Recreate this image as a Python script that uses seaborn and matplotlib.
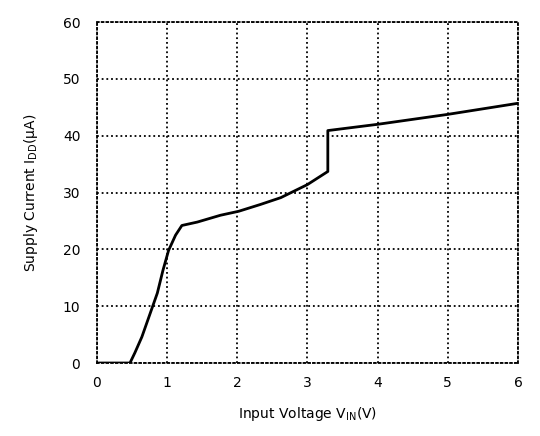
import matplotlib
matplotlib.use("Agg")
import matplotlib.pyplot as plt
import seaborn as sns
import pandas as pd

# Supply current vs. input voltage
input_voltage = [0.02, 0.47, 0.54, 0.64, 0.76, 0.86, 0.94, 1.02, 1.12, 1.21, 1.43,
                 1.76, 2.02, 2.33, 2.62, 3.00, 3.29, 3.29, 4.00, 5.00, 6.00]
supply_current = [0.0, 0.0, 1.8, 4.6, 8.8, 12.3, 16.3, 19.8, 22.5, 24.2, 24.8,
                  26.0, 26.7, 27.9, 29.1, 31.4, 33.7, 40.9, 42.0, 43.75, 45.7]
x_ticks = [0, 1, 2, 3, 4, 5, 6]
y_ticks = [0, 10, 20, 30, 40, 50, 60]

sns.set_theme(style="white")
plt.rcParams["font.family"] = ["DejaVu Sans"]
plt.rcParams["text.color"] = "black"
plt.rcParams["axes.labelcolor"] = "black"
plt.rcParams["xtick.color"] = "black"
plt.rcParams["ytick.color"] = "black"

df = pd.DataFrame({"vin": input_voltage, "idd": supply_current})

fig = plt.figure(figsize=(5.4, 4.36), dpi=100)
ax = fig.add_axes([0.1796, 0.1674, 0.7796, 0.7821])

sns.lineplot(data=df, x="vin", y="idd", sort=False, estimator=None,
             color="black", linewidth=2.0, ax=ax)

ax.set_xlim(0, 6)
ax.set_ylim(0, 60)
ax.set_xticks(x_ticks)
ax.set_yticks(y_ticks)
ax.set_xticklabels([str(t) for t in x_ticks], fontsize=10)
ax.set_yticklabels([str(t) for t in y_ticks], fontsize=10)
ax.tick_params(axis="x", length=0, pad=9)
ax.tick_params(axis="y", length=0, pad=12)

ax.grid(True, color="black", linestyle=(0, (1, 1.6)), linewidth=1.3)
for s in ax.spines.values():
    s.set_color("black")
    s.set_linestyle((0, (1, 1.6)))
    s.set_linewidth(1.3)

ax.set_xlabel(r"Input Voltage V$_{\mathrm{IN}}$(V)", fontsize=10, labelpad=11)
ax.set_ylabel(r"Supply Current I$_{\mathrm{DD}}$(µA)", fontsize=10, labelpad=16)

fig.savefig("out.png", dpi=100)
